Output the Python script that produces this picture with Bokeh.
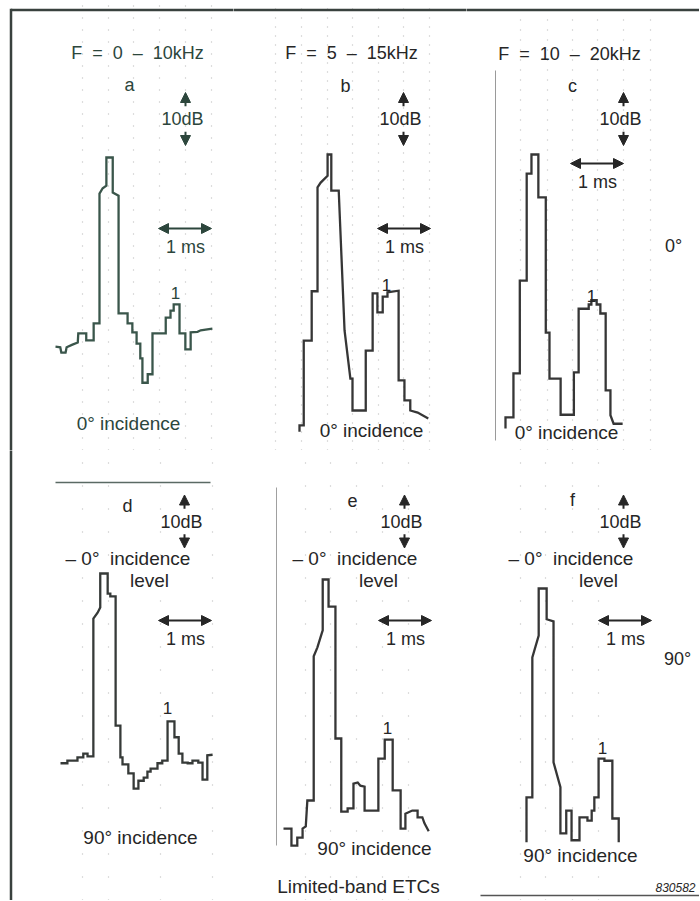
from bokeh.plotting import figure
from bokeh.layouts import gridplot
from bokeh.models import Range1d, Label, Arrow, NormalHead, Grid, FixedTicker
from bokeh.embed import file_html
from bokeh.resources import INLINE

# ---------------- data (time in ms, level in dB re. main peak) ----------------
trace_a = [(0.00, -35.7), (0.09, -35.8), (0.11, -36.8), (0.19, -36.8), (0.21, -35.8), (0.32, -35.3),
           (0.42, -34.9), (0.43, -33.2), (0.58, -33.2), (0.58, -34.5), (0.72, -34.5), (0.72, -31.3),
           (0.83, -31.3), (0.83, -6.8), (0.89, -5.8), (0.96, -5.3), (0.96, 0.0), (1.08, 0.0),
           (1.08, -6.6), (1.19, -7.2), (1.19, -29.4), (1.36, -29.4), (1.36, -31.3), (1.45, -31.3),
           (1.45, -33.0), (1.53, -33.0), (1.53, -35.1), (1.60, -35.1), (1.60, -37.9), (1.64, -37.9),
           (1.64, -42.5), (1.74, -42.5), (1.74, -40.9), (1.83, -40.9), (1.83, -33.2), (2.08, -33.2),
           (2.08, -30.2), (2.17, -30.2), (2.17, -28.9), (2.23, -28.9), (2.23, -27.7), (2.34, -27.7),
           (2.34, -33.2), (2.45, -33.2), (2.45, -36.2), (2.55, -36.2), (2.55, -33.0), (2.68, -32.9),
           (2.74, -32.6), (2.96, -32.3)]
trace_b = [(0.00, -52.3), (0.00, -51.1), (0.08, -51.1), (0.08, -35.1), (0.23, -35.1), (0.23, -25.8),
           (0.34, -25.8), (0.34, -6.2), (0.40, -5.3), (0.53, -4.0), (0.53, 0.0), (0.60, 0.0),
           (0.60, -6.8), (0.74, -6.8), (0.85, -33.2), (0.96, -42.3), (1.00, -42.3), (1.00, -48.3),
           (1.25, -48.3), (1.25, -37.0), (1.38, -37.0), (1.38, -26.2), (1.47, -26.2), (1.47, -29.8),
           (1.57, -29.8), (1.57, -26.8), (1.66, -26.8), (1.66, -26.0), (1.87, -25.7), (1.87, -42.6),
           (1.98, -42.6), (1.98, -46.4), (2.09, -46.4), (2.09, -48.3), (2.23, -48.7), (2.32, -49.2),
           (2.43, -49.8)]
trace_c = [(0.00, -51.7), (0.00, -49.6), (0.15, -49.6), (0.15, -41.3), (0.27, -41.3), (0.27, -23.8),
           (0.40, -23.8), (0.40, -3.6), (0.49, -3.6), (0.49, 0.0), (0.62, 0.0), (0.62, -8.1),
           (0.76, -8.1), (0.76, -33.6), (0.83, -33.6), (0.83, -42.3), (1.04, -42.3), (1.04, -49.1),
           (1.29, -49.1), (1.29, -41.1), (1.38, -41.1), (1.38, -29.1), (1.57, -29.1), (1.57, -28.3),
           (1.62, -28.3), (1.62, -27.5), (1.72, -27.5), (1.72, -28.3), (1.79, -28.3), (1.79, -30.0),
           (1.89, -30.0), (1.89, -44.5), (1.98, -44.5), (1.98, -49.2), (2.04, -50.8), (2.21, -50.8)]
trace_d = [(0.00, -35.8), (0.13, -35.8), (0.13, -35.3), (0.32, -35.3), (0.32, -34.7), (0.43, -34.7),
           (0.43, -34.0), (0.51, -34.0), (0.51, -34.5), (0.62, -34.5), (0.62, -8.5), (0.70, -7.4),
           (0.75, -6.4), (0.75, 0.0), (0.89, 0.0), (0.89, -3.8), (0.94, -3.8), (0.94, -4.3),
           (1.04, -4.3), (1.04, -28.7), (1.13, -28.7), (1.13, -34.7), (1.17, -34.7), (1.17, -36.0),
           (1.28, -36.0), (1.28, -37.7), (1.38, -37.7), (1.38, -40.6), (1.47, -40.6), (1.47, -39.1),
           (1.57, -39.1), (1.57, -38.5), (1.64, -38.5), (1.64, -37.4), (1.70, -37.4), (1.70, -36.8),
           (1.83, -36.8), (1.83, -35.8), (1.92, -35.8), (1.92, -35.3), (2.02, -35.3), (2.02, -27.9),
           (2.15, -27.9), (2.15, -30.9), (2.23, -30.9), (2.23, -34.0), (2.30, -34.0), (2.30, -35.7),
           (2.40, -35.7), (2.40, -35.8), (2.49, -35.8), (2.49, -35.3), (2.60, -35.3), (2.60, -35.7),
           (2.68, -35.7), (2.68, -38.9), (2.77, -38.9), (2.77, -34.3), (2.87, -34.2)]
trace_e = [(0.00, -47.0), (0.15, -47.0), (0.15, -50.2), (0.26, -50.2), (0.26, -48.7), (0.36, -48.7),
           (0.36, -47.0), (0.42, -46.6), (0.45, -41.7), (0.57, -41.7), (0.57, -14.5), (0.64, -12.8),
           (0.72, -10.2), (0.74, -9.6), (0.74, 0.0), (0.85, 0.0), (0.85, -5.1), (0.98, -5.1),
           (0.98, -30.0), (1.09, -30.0), (1.09, -43.8), (1.21, -43.8), (1.21, -43.2), (1.32, -43.2),
           (1.32, -38.5), (1.40, -38.3), (1.45, -38.9), (1.53, -39.1), (1.53, -43.6), (1.79, -43.6),
           (1.79, -33.8), (1.91, -33.8), (1.91, -30.2), (2.06, -30.2), (2.06, -39.8), (2.21, -39.8),
           (2.21, -47.0), (2.30, -47.0), (2.30, -44.2), (2.43, -43.6), (2.53, -43.6), (2.53, -44.9),
           (2.62, -44.9), (2.66, -46.0), (2.74, -47.5)]
trace_f = [(0.00, -47.9), (0.00, -39.4), (0.11, -39.4), (0.11, -13.0), (0.23, -8.9), (0.23, 0.0),
           (0.38, 0.0), (0.38, -5.8), (0.51, -6.2), (0.51, -32.8), (0.64, -37.5), (0.64, -46.2),
           (0.75, -46.2), (0.75, -41.9), (0.85, -41.9), (0.85, -47.5), (1.00, -47.5), (1.00, -43.2),
           (1.15, -43.2), (1.15, -43.8), (1.23, -43.8), (1.23, -41.9), (1.28, -41.9), (1.28, -39.4),
           (1.36, -39.4), (1.36, -32.1), (1.47, -32.1), (1.47, -32.5), (1.62, -32.5), (1.62, -43.4),
           (1.74, -43.4), (1.74, -47.9)]

NB = "\u00a0"
band_titles = ["F" + NB * 2 + "=" + NB * 2 + "0" + NB * 2 + "\u2013" + NB * 2 + "10kHz",
               "F" + NB * 2 + "=" + NB * 2 + "5" + NB * 2 + "\u2013" + NB * 2 + "15kHz",
               "F" + NB * 2 + "=" + NB * 2 + "10" + NB * 2 + "\u2013" + NB * 2 + "20kHz"]
panel_letters = ["a", "b", "c", "d", "e", "f"]
incidence_texts = ["0\u00b0 incidence"] * 3 + ["90\u00b0 incidence"] * 3
zero_level_text = "\u2013" + NB + "0\u00b0" + NB * 2 + "incidence"
zero_deg_level_db = {"d": 2.8, "e": 4.0, "f": 5.6}   # 0 deg incidence peak level in 90 deg plots
scale_ms = 1.0
scale_db = 10.0

# ---------------- layout ----------------
PX_MS = 53.0
PX_DB = 5.3
FW, FH = 233, 450
FONT = "Liberation Sans"
FS = "18px"
TXT = "#262626"
GRN = "#2c463c"

# page pixel where (t=0, L=0) of each panel sits
ORIGIN = {"a": (55, 157), "b": (299, 154), "c": (505, 154),
          "d": (60, 573), "e": (283, 579), "f": (526, 588)}
POS = {"a": (0, 0), "b": (1, 0), "c": (2, 0), "d": (0, 1), "e": (1, 1), "f": (2, 1)}
TRACES = {"a": trace_a, "b": trace_b, "c": trace_c, "d": trace_d, "e": trace_e, "f": trace_f}
# faint dotted graticule columns of the scanned original (page x, page y-extent, dash)
GRATICULE = {"a": ([82, 108, 133, 159, 185, 211], (75, 300), "1 11"),
             "b": ([275, 301, 327, 352, 378, 403, 429], (60, 300), "1 8"),
             "c": ([520, 547, 572, 597, 623, 650], (65, 425), "1 9"),
             "d": ([82, 108, 160, 212], (600, 880), "1 22"),
             "e": ([305, 330, 356, 382, 408], (600, 830), "1 22"),
             "f": ([520, 545, 572, 598], (580, 860), "1 22")}


def tx(k, x):
    return (x - ORIGIN[k][0]) / PX_MS


def ly(k, y):
    return (ORIGIN[k][1] - y) / PX_DB


def make(k):
    col, row = POS[k]
    ox, oy = ORIGIN[k]
    left = col * FW
    top = row * FH
    p = figure(width=FW, height=FH,
               x_range=Range1d((left - ox) / PX_MS, (left + FW - ox) / PX_MS),
               y_range=Range1d((oy - top - FH) / PX_DB, (oy - top) / PX_DB),
               x_axis_location=None, y_axis_location=None,
               output_backend="svg", toolbar_location=None, min_border=0)
    p.grid.visible = False
    p.outline_line_color = None
    p.background_fill_color = "white"
    p.border_fill_color = "white"
    xs, (y_top, y_bot), dash = GRATICULE[k]
    p.add_layout(Grid(dimension=0, ticker=FixedTicker(ticks=[tx(k, x) for x in xs]),
                      bounds=(ly(k, y_bot), ly(k, y_top)), grid_line_color="#bcbcbc",
                      grid_line_width=1.2, grid_line_dash=dash))
    return p


def text(p, k, x, y, s, size=FS, color=TXT, align="center", style="normal"):
    p.add_layout(Label(x=tx(k, x), y=ly(k, y), text=s, text_align=align,
                       text_baseline="middle", text_font=FONT, text_font_size=size,
                       text_color=color, text_font_style=style))


def rule(p, k, x0, y0, x1, y1, color, width):
    p.segment(x0=[tx(k, x0)], y0=[ly(k, y0)], x1=[tx(k, x1)], y1=[ly(k, y1)],
              line_color=color, line_width=width)


def head(c):
    return NormalHead(size=10, fill_color=c, line_color=c, line_width=1)


def db_arrows(p, k, x, y_mid, c):
    # 10 dB between the two arrow tips
    xd = tx(k, x)
    l_mid = ly(k, y_mid)
    top = l_mid + scale_db / 2
    bot = l_mid - scale_db / 2
    p.add_layout(Arrow(end=head(c), x_start=xd, y_start=top - 2.6, x_end=xd, y_end=top,
                       line_color=c, line_width=2))
    p.add_layout(Arrow(end=head(c), x_start=xd, y_start=bot + 2.6, x_end=xd, y_end=bot,
                       line_color=c, line_width=2))
    text(p, k, x - 3, y_mid, "10dB", color=c)


def ms_arrow(p, k, x_left, y, c):
    x0 = tx(k, x_left)
    yy = ly(k, y)
    p.add_layout(Arrow(start=head(c), end=head(c), x_start=x0, y_start=yy,
                       x_end=x0 + scale_ms, y_end=yy, line_color=c, line_width=2.2))
    text(p, k, x_left + 27, y + 18, "1 ms", color=c)


figs = {}
for k in panel_letters:
    figs[k] = make(k)

trace_colors = {"a": "#3a564b", "b": "#363636", "c": "#363636",
                "d": "#363a38", "e": "#363636", "f": "#363636"}
for k in panel_letters:
    p = figs[k]
    t = [q[0] for q in TRACES[k]]
    L = [q[1] for q in TRACES[k]]
    p.line(t, L, line_color=trace_colors[k], line_width=2.3, line_join="miter")

# frame of the page (drawn a little past each panel edge so the pieces join)
FRAME = "#39413e"
rule(figs["a"], "a", 10.5, 9.5, 240, 9.5, FRAME, 2.5)
rule(figs["b"], "b", 225, 9.5, 475, 9.5, FRAME, 2.5)
rule(figs["c"], "c", 455, 9.5, 710, 9.5, FRAME, 2.5)
rule(figs["a"], "a", 10.5, 8.3, 10.5, 460, FRAME, 2.5)
rule(figs["d"], "d", 10.5, 440, 10.5, 910, FRAME, 2.5)
rule(figs["f"], "f", 480, 895, 710, 895, "#555555", 1.5)

# ---- panel a ----
p = figs["a"]
text(p, "a", 137, 52, band_titles[0], color=GRN)
text(p, "a", 129, 84, "a", color=GRN)
db_arrows(p, "a", 185, 118.5, GRN)
ms_arrow(p, "a", 158, 228, GRN)
text(p, "a", 175, 292, "1", size="17px", color=GRN)
text(p, "a", 128, 423, incidence_texts[0], size="19px", color=GRN)

# ---- panel b ----
p = figs["b"]
text(p, "b", 351, 52, band_titles[1])
text(p, "b", 345, 85, "b")
db_arrows(p, "b", 403, 118.5, TXT)
ms_arrow(p, "b", 377, 228, TXT)
text(p, "b", 386, 284, "1", size="17px")
text(p, "b", 371, 430, incidence_texts[1], size="19px")

# ---- panel c ----
p = figs["c"]
text(p, "c", 569, 53, band_titles[2])
text(p, "c", 572, 85, "c")
db_arrows(p, "c", 623, 118.5, TXT)
ms_arrow(p, "c", 570, 163, TXT)
text(p, "c", 673, 245, "0\u00b0")
text(p, "c", 591, 295, "1", size="17px")
text(p, "c", 566, 432, incidence_texts[2], size="19px")
rule(p, "c", 495, 70, 495, 440, "#9a9a9a", 1)

# ---- bottom row ----
bottom_cfg = {
    "d": dict(letter=(127, 505), dbx=184, dash_x=65, level=(149, 580), msx=158,
              one=(167, 707), inc=(140, 837)),
    "e": dict(letter=(352, 500), dbx=404, dash_x=292, level=(378, 580), msx=378,
              one=(387, 727), inc=(374, 848)),
    "f": dict(letter=(572, 499), dbx=623, dash_x=508, level=(598, 580), msx=598,
              one=(602, 747), inc=(580, 855)),
}
for i, k in enumerate(["d", "e", "f"]):
    p = figs[k]
    cfg = bottom_cfg[k]
    text(p, k, cfg["letter"][0], cfg["letter"][1], k)
    db_arrows(p, k, cfg["dbx"], 521, TXT)
    p.add_layout(Label(x=tx(k, cfg["dash_x"]), y=zero_deg_level_db[k],
                       text=zero_level_text, text_align="left", text_baseline="middle",
                       text_font=FONT, text_font_size="19px", text_color=TXT))
    text(p, k, cfg["level"][0], cfg["level"][1], "level", size="19px")
    ms_arrow(p, k, cfg["msx"], 620, TXT)
    text(p, k, cfg["one"][0], cfg["one"][1], "1", size="17px")
    text(p, k, cfg["inc"][0], cfg["inc"][1], incidence_texts[3 + i], size="19px")

rule(figs["d"], "d", 55, 482, 210, 482, "#5a6a64", 1.5)
rule(figs["e"], "e", 276, 487, 276, 845, "#a0a0a0", 1)
text(figs["e"], "e", 358, 886, "Limited-band ETCs", size="19px")
text(figs["f"], "f", 677, 658, "90\u00b0")
text(figs["f"], "f", 655, 887, "830582", size="12px", align="left", style="italic")

grid = gridplot([[figs["a"], figs["b"], figs["c"]], [figs["d"], figs["e"], figs["f"]]],
                toolbar_location=None)

open("out.html", "w").write(file_html(grid, INLINE))
